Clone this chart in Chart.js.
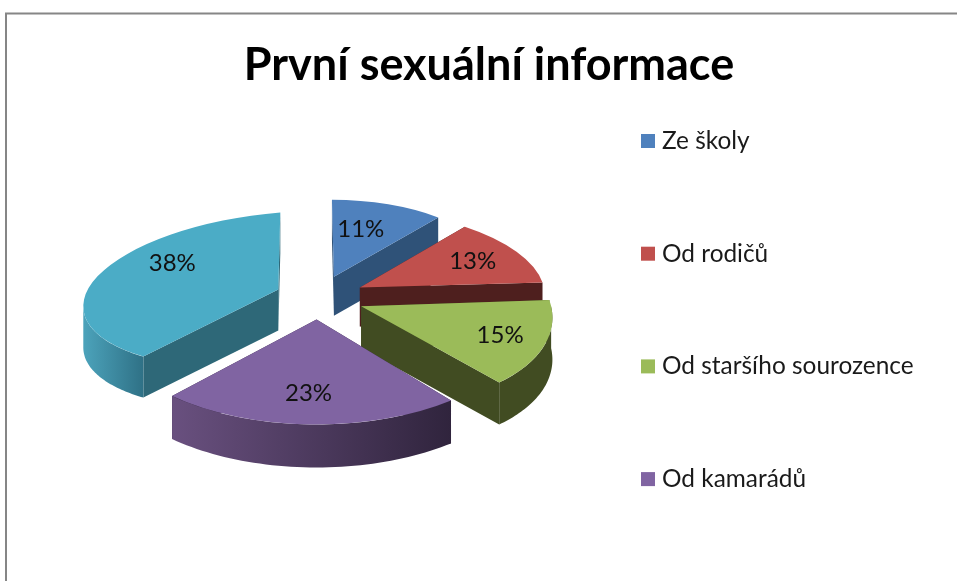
<!DOCTYPE html>
<html>
<head>
<meta charset="utf-8">
<title>První sexuální informace</title>
<script src="https://cdn.jsdelivr.net/npm/chart.js@4"></script>
<style>
    html, body { margin: 0; padding: 0; background: #fff; overflow: hidden; }
    #wrap { position: relative; width: 957px; height: 581px; }
</style>
</head>
<body>
<div id="wrap"><canvas id="pie"></canvas></div>
<script>
const categories = ['Ze školy', 'Od rodičů', 'Od staršího sourozence', 'Od kamarádů', ''];
const shares = [11, 13, 15, 23, 38];
const sliceColors = ['#4F81BD', '#C0504D', '#9BBB59', '#8064A2', '#4BACC6'];

// 3D look: cut face colour, rim gradient, and how each slice is stretched on screen
const cutColors = ['#2F5278', '#4E1F1E', '#414C22', '#32263F', '#2E6878'];
const rimColors = [['#2F5278', '#2F5278'], ['#4E1F1E', '#4E1F1E'], ['#414C22', '#414C22'], ['#69507F', '#30243D'], ['#4CA3BB', '#2F7186']];
const stretch = [
    { sx: 1.66, sy: 0.77, shearY: 0, shearX: 0.02, nudge: 0, deep: 39, lx: 0.5, ly: 0.66 },
    { sx: 1.84, sy: 0.79, shearY: 0, shearX: 0.16, nudge: 0, deep: 39, lx: 0.72, ly: 0.72 },
    { sx: 1.9, sy: 0.99, shearY: 0, shearX: 0.22, nudge: 0, deep: 42, lx: 0.76, ly: 0.74 },
    { sx: 2.11, sy: 1.05, shearY: 0, shearX: 0, nudge: 0, deep: 43, lx: 1.2, ly: 0.7 },
    { sx: 1.95, sy: 0.77, shearY: -0.083, shearX: -0.02, nudge: 4, deep: 41, lx: 0.59, ly: 1.25 }
];
const drawOrder = [4, 0, 1, 2, 3];
const explodeX = 47, explodeY = 22;
const shiftX = -171, shiftY = -12;

// legend sits to the right of the pie, one row every legendStep pixels
const legendX = 641, legendTop = 141, legendStep = 112.7, legendBox = 14;

function sliceGeometry(arc, i) {
    const s = stretch[i];
    const mid = (arc.startAngle + arc.endAngle) / 2;
    const ax = arc.x + shiftX + Math.cos(mid) * explodeX + s.nudge;
    const ay = arc.y + shiftY + Math.sin(mid) * explodeY;
    const a = s.sx, b = s.shearY * s.sx, c = s.shearX, d = s.sy;
    return {
        ax, ay, a, b, c, d, mid,
        at(angle, r, dy) {
            const ux = Math.cos(angle) * r, uy = Math.sin(angle) * r;
            return [ax + a * ux + c * uy, ay + b * ux + d * uy + (dy || 0)];
        }
    };
}

function fillPoly(ctx, pts, fill) {
    ctx.beginPath();
    pts.forEach((p, n) => n ? ctx.lineTo(p[0], p[1]) : ctx.moveTo(p[0], p[1]));
    ctx.closePath();
    ctx.fillStyle = fill;
    ctx.fill();
}

const pie3d = {
    id: 'pie3d',
    beforeDraw(chart) {
        const ctx = chart.ctx;
        ctx.save();
        ctx.strokeStyle = '#868686';
        ctx.lineWidth = 2;
        ctx.beginPath();
        ctx.moveTo(6, 581);
        ctx.lineTo(6, 13.5);
        ctx.lineTo(957, 13.5);
        ctx.stroke();
        ctx.restore();
    },
    beforeDatasetsDraw(chart) {
        const ctx = chart.ctx;
        const arcs = chart.getDatasetMeta(0).data;
        drawOrder.forEach(i => {
            const arc = arcs[i];
            const g = sliceGeometry(arc, i);
            const depth = stretch[i].deep;
            const R = arc.outerRadius;
            const start = arc.startAngle, end = arc.endAngle;
            const apex = [g.ax, g.ay];
            // cut faces
            [start, end].forEach(angle => {
                const p = g.at(angle, R);
                fillPoly(ctx, [apex, p, [p[0], p[1] + depth], [apex[0], apex[1] + depth]], cutColors[i]);
            });
            // outer rim, only the part that faces the viewer
            const from = Math.max(start, 0), to = Math.min(end, Math.PI);
            if (to > from) {
                const upper = [], lower = [];
                for (let k = 0; k <= 48; k++) {
                    const t = from + (to - from) * k / 48;
                    upper.push(g.at(t, R));
                    lower.unshift(g.at(t, R, depth));
                }
                const xs = upper.map(p => p[0]);
                const grad = ctx.createLinearGradient(Math.min(...xs), 0, Math.max(...xs), 0);
                grad.addColorStop(0, rimColors[i][0]);
                grad.addColorStop(1, rimColors[i][1]);
                fillPoly(ctx, upper.concat(lower), grad);
            }
            // top face, drawn by the arc element itself
            ctx.save();
            ctx.translate(g.ax, g.ay);
            ctx.transform(g.a, g.b, g.c, g.d, 0, 0);
            ctx.translate(-arc.x, -arc.y);
            arc.draw(ctx);
            ctx.restore();
        });
        // value labels
        ctx.save();
        ctx.fillStyle = '#111';
        ctx.font = '24px Lato';
        ctx.textAlign = 'center';
        ctx.textBaseline = 'middle';
        arcs.forEach((arc, i) => {
            const g = sliceGeometry(arc, i);
            const s = stretch[i];
            const ux = Math.cos(g.mid) * arc.outerRadius * s.lx;
            const uy = Math.sin(g.mid) * arc.outerRadius * s.ly;
            ctx.fillText(shares[i] + '%', g.ax + g.a * ux + g.c * uy, g.ay + g.b * ux + g.d * uy);
        });
        // legend, the last slice has no entry
        ctx.textAlign = 'left';
        ctx.font = '24.4px Lato';
        categories.forEach((name, i) => {
            if (!name) return;
            const y = legendTop + i * legendStep;
            ctx.fillStyle = sliceColors[i];
            ctx.fillRect(legendX, y - legendBox / 2, legendBox, legendBox);
            ctx.fillStyle = '#1a1a1a';
            ctx.fillText(name, legendX + 21, y);
        });
        ctx.restore();
        return false;
    }
};

new Chart(document.getElementById('pie'), {
    type: 'pie',
    data: {
        labels: categories,
        datasets: [{
            data: shares,
            backgroundColor: sliceColors,
            borderWidth: 0,
            offset: 0
        }]
    },
    options: {
        responsive: true,
        maintainAspectRatio: false,
        animation: false,
        radius: 100,
        layout: { padding: { left: 22, top: 38, bottom: 54, right: 1 } },
        plugins: {
            title: {
                display: true,
                text: 'První sexuální informace',
                color: '#000',
                font: { family: 'Lato', size: 45, weight: 'bold' },
                padding: { top: 0, bottom: 0 }
            },
            legend: { display: false },
            tooltip: { enabled: false }
        }
    },
    plugins: [pie3d]
});
</script>
</body>
</html>
